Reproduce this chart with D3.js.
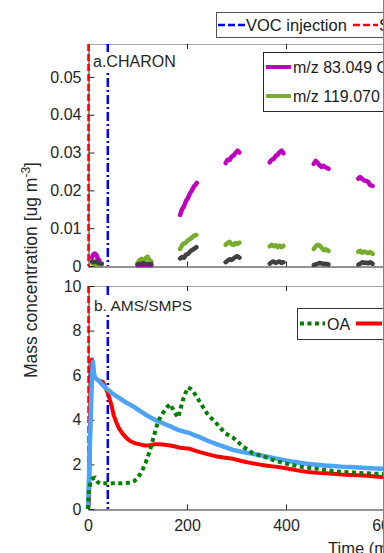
<!DOCTYPE html>
<html>
<head>
<meta charset="utf-8">
<script src="https://cdn.jsdelivr.net/npm/d3@7"></script>
<style>
  body { margin: 0; background: #fff; }
  svg { display: block; font-family: "Liberation Sans", Arial, sans-serif; }
</style>
</head>
<body>
<div id="the_chart"></div>
<script>
// event times (min)
var seedTime = 1;
var vocTime = 40;

// a. CHARON ions, measured in short periods: [time (min), ug m-3]
var mz83 = [
    [[8, 0.0022], [11, 0.0031], [14, 0.0033], [17, 0.0029], [20, 0.0020], [23, 0.0014]],
    [[100, 0.0002], [106, 0.0003], [112, 0.0002], [118, 0.0003], [124, 0.0002], [128, 0.0002]],
    [[186, 0.0135], [190, 0.0150], [194, 0.0158], [198, 0.0172], [202, 0.0180], [206, 0.0192], [210, 0.0200], [214, 0.0210], [218, 0.0216], [220, 0.0220]],
    [[278, 0.0272], [282, 0.0281], [286, 0.0280], [290, 0.0289], [294, 0.0292], [298, 0.0299], [302, 0.0305], [306, 0.0300]],
    [[367, 0.0274], [371, 0.0281], [375, 0.0283], [379, 0.0291], [383, 0.0294], [387, 0.0301], [391, 0.0305], [395, 0.0298]],
    [[456, 0.0270], [460, 0.0278], [464, 0.0273], [468, 0.0266], [472, 0.0262], [476, 0.0265], [480, 0.0261], [486, 0.0257]],
    [[546, 0.0231], [550, 0.0235], [554, 0.0230], [558, 0.0226], [562, 0.0225], [566, 0.0222], [570, 0.0214], [575, 0.0212]]
];
var mz119 = [
    [[8, 0.0008], [12, 0.0005], [16, 0.0006], [20, 0.0004], [24, 0.0005]],
    [[100, 0.0008], [104, 0.0015], [108, 0.0019], [112, 0.0012], [116, 0.0020], [120, 0.0025], [124, 0.0016], [128, 0.0012]],
    [[186, 0.0045], [190, 0.0055], [194, 0.0060], [198, 0.0062], [202, 0.0068], [206, 0.0071], [210, 0.0075], [214, 0.0080], [219, 0.0082]],
    [[278, 0.0056], [282, 0.0061], [286, 0.0064], [290, 0.0058], [294, 0.0056], [298, 0.0061], [302, 0.0058], [306, 0.0062]],
    [[367, 0.0052], [371, 0.0056], [375, 0.0052], [379, 0.0055], [383, 0.0050], [387, 0.0054], [391, 0.0050], [395, 0.0053]],
    [[456, 0.0045], [460, 0.0052], [464, 0.0056], [468, 0.0054], [472, 0.0048], [476, 0.0042], [480, 0.0044], [486, 0.0040]],
    [[546, 0.0038], [550, 0.0040], [554, 0.0035], [558, 0.0038], [562, 0.0036], [566, 0.0034], [570, 0.0037], [575, 0.0032]]
];
var mzOther = [
    [[8, 0.0012], [12, 0.0010], [16, 0.0012], [20, 0.0009], [24, 0.0007], [28, 0.0006]],
    [[100, 0.0004], [104, 0.0006], [108, 0.0005], [112, 0.0007], [116, 0.0005], [120, 0.0006], [124, 0.0004], [128, 0.0005]],
    [[186, 0.0020], [190, 0.0024], [194, 0.0022], [198, 0.0030], [202, 0.0032], [206, 0.0038], [210, 0.0042], [214, 0.0045], [219, 0.0050]],
    [[278, 0.0010], [282, 0.0014], [286, 0.0018], [290, 0.0016], [294, 0.0020], [298, 0.0024], [302, 0.0026], [306, 0.0022]],
    [[367, 0.0006], [371, 0.0010], [375, 0.0012], [379, 0.0008], [383, 0.0010], [387, 0.0012], [391, 0.0008], [395, 0.0010]],
    [[456, 0.0003], [460, 0.0004], [464, 0.0006], [468, 0.0008], [472, 0.0007], [476, 0.0005], [480, 0.0006], [486, 0.0004]],
    [[546, 0.0004], [550, 0.0006], [554, 0.0010], [558, 0.0008], [562, 0.0009], [566, 0.0007], [570, 0.0010], [575, 0.0006]]
];

// b. AMS/SMPS: [time (min), ug m-3]
var oaAms = [[0, 0], [2, 0.86], [6, 1.3], [10, 1.38], [14, 1.4], [20, 1.2], [24, 1.15], [34, 1.15], [44, 1.14], [54, 1.16], [65, 1.15], [75, 1.16], [85, 1.18],
    [93, 1.25], [99, 1.35], [105, 1.55], [111, 1.8], [116, 2.05], [121, 2.35], [126, 2.7], [131, 3.1], [136, 3.5], [141, 3.9], [148, 4.2], [156, 4.45], [161, 4.6],
    [166, 4.7], [171, 4.5], [176, 4.3], [182, 4.1], [187, 4.5], [192, 4.9], [197, 5.2], [202, 5.45], [207, 5.4], [212, 5.3], [219, 5.05], [226, 4.8], [233, 4.55],
    [240, 4.3], [248, 4.1], [257, 3.9], [267, 3.65], [277, 3.4], [285, 3.3], [293, 3.2], [303, 3.0], [313, 2.8], [323, 2.65], [333, 2.5], [347, 2.4], [362, 2.3],
    [378, 2.17], [394, 2.07], [411, 1.98], [428, 1.9], [445, 1.85], [463, 1.8], [479, 1.75], [495, 1.7], [512, 1.67], [529, 1.65], [546, 1.62], [564, 1.6],
    [580, 1.58], [596, 1.57], [640, 1.52], [700, 1.46], [800, 1.38]];
var smpsRed = [[0, 0], [2, 0.3], [4, 3.2], [6, 5.9], [8, 6.7], [10, 6.5], [12, 5.9], [16, 5.85], [22, 5.75], [30, 5.7], [36, 5.4], [40, 5.2], [44, 4.9], [48, 4.6],
    [52, 4.2], [57, 3.9], [63, 3.6], [69, 3.4], [77, 3.2], [85, 3.05], [95, 2.95], [105, 2.9], [115, 2.85], [125, 2.86], [135, 2.9], [145, 2.9], [155, 2.88],
    [166, 2.85], [176, 2.8], [186, 2.75], [196, 2.72], [206, 2.7], [216, 2.62], [226, 2.55], [243, 2.45], [261, 2.35], [277, 2.3], [293, 2.25], [310, 2.15],
    [327, 2.07], [345, 2.0], [362, 1.94], [378, 1.9], [394, 1.85], [411, 1.78], [428, 1.71], [445, 1.66], [463, 1.62], [479, 1.6], [495, 1.58], [512, 1.55],
    [529, 1.53], [546, 1.51], [564, 1.49], [580, 1.46], [596, 1.44], [620, 1.41], [660, 1.36], [720, 1.3], [800, 1.22]];
var smpsBlue = [[0, 0], [2, 1.4], [4, 3.0], [6, 4.5], [8, 5.9], [10, 6.6], [12, 6.1], [14, 5.9], [19, 5.8], [24, 5.7], [32, 5.5], [40, 5.35], [47, 5.22], [55, 5.1],
    [65, 4.95], [75, 4.8], [85, 4.68], [95, 4.55], [105, 4.4], [115, 4.25], [125, 4.12], [135, 4.0], [146, 3.9], [156, 3.8], [169, 3.68], [182, 3.55],
    [194, 3.47], [206, 3.4], [216, 3.3], [226, 3.22], [243, 3.05], [261, 2.9], [277, 2.77], [293, 2.65], [310, 2.57], [327, 2.5], [345, 2.42], [362, 2.35],
    [378, 2.27], [394, 2.2], [411, 2.13], [428, 2.07], [445, 2.02], [463, 1.98], [479, 1.95], [495, 1.93], [512, 1.9], [529, 1.88], [546, 1.86], [564, 1.84],
    [580, 1.82], [596, 1.8], [640, 1.75], [700, 1.69], [800, 1.6]];

var topTicks = [0, 0.01, 0.02, 0.03, 0.04, 0.05];
var botTicks = [0, 2, 4, 6, 8, 10];
var timeTicks = [0, 200, 400, 600, 800];

var w = 384, h = 553;
var left = 88;
var svg = d3.select("#the_chart")
    .append("svg")
    .attr("width", w)
    .attr("height", h);

var xscale = d3.scaleLinear()
    .domain([0, 800])
    .range([left, left + 0.495 * 800]);

gen_panel(44, 266, [0, 0.0587], topTicks, d3.format(".2~f"), false);
gen_panel(286, 509, [0, 10], botTicks, d3.format("d"), true);
gen_top();
gen_bottom();
gen_labels();

// panel title with white box behind it, like the matlab text background
function panel_title(x, y, size, str) {
    var g = svg.append("g");
    var bg = g.append("rect").attr("fill", "#fff");
    var t = g.append("text")
        .attr("x", x).attr("y", y)
        .attr("font-size", size)
        .attr("fill", "#262626")
        .text(str);
    var bb = t.node().getBBox();
    bg.attr("x", bb.x - 2).attr("y", bb.y - 1)
        .attr("width", bb.width + 4).attr("height", bb.height + 2);
}

function gen_panel(y0, y1, dom, ticks, fmt, showX) {
    var yscale = d3.scaleLinear().domain(dom).range([y1, y0]);

    // top edge of the box, light gray with ticks pointing down
    svg.append("line")
        .attr("x1", left).attr("x2", w)
        .attr("y1", y0 + 0.5).attr("y2", y0 + 0.5)
        .attr("stroke", "#a6a6a6");
    svg.selectAll(null)
        .data(timeTicks.slice(1))
        .enter().append("line")
        .attr("x1", function (d) { return Math.round(xscale(d)) + 0.5; })
        .attr("x2", function (d) { return Math.round(xscale(d)) + 0.5; })
        .attr("y1", y0).attr("y2", y0 + 5)
        .attr("stroke", "#262626");

    var yaxis = d3.axisLeft(yscale)
        .tickValues(ticks)
        .tickFormat(fmt)
        .tickSizeInner(-6)
        .tickSizeOuter(0)
        .tickPadding(7);
    var gY = svg.append("g")
        .attr("transform", "translate(" + (left + 0.5) + ",0)")
        .call(yaxis);
    gY.selectAll("text").attr("font-size", 16).attr("fill", "#262626");
    gY.selectAll("line, path").attr("stroke", "#262626");

    var xaxis = d3.axisBottom(xscale)
        .tickValues(timeTicks)
        .tickSizeInner(-5)
        .tickSizeOuter(0)
        .tickPadding(10)
        .tickFormat(showX ? d3.format("d") : "");
    var gX = svg.append("g")
        .attr("transform", "translate(0," + (y1 + 0.5) + ")")
        .call(xaxis);
    gX.selectAll("text").attr("font-size", 16).attr("fill", "#262626");
    gX.selectAll("line, path").attr("stroke", "#262626");
    gX.selectAll(".tick line").filter(function (d) { return d === 0; }).remove();

    // seed and VOC injection markers
    svg.append("line")
        .attr("x1", xscale(seedTime)).attr("x2", xscale(seedTime))
        .attr("y1", y0).attr("y2", y1)
        .attr("stroke", "#ff0000").attr("stroke-width", 2.5)
        .attr("stroke-dasharray", "7,3");
    svg.append("line")
        .attr("x1", xscale(vocTime)).attr("x2", xscale(vocTime))
        .attr("y1", y0).attr("y2", y1)
        .attr("stroke", "#0000ff").attr("stroke-width", 2.5)
        .attr("stroke-dasharray", "9,3,2,3");
}

function gen_top() {
    var yscale = d3.scaleLinear().domain([0, 0.0587]).range([266, 44]);
    var line = d3.line()
        .x(function (d) { return xscale(d[0]); })
        .y(function (d) { return yscale(d[1]); });

    var series = [
        { data: mz83, color: "#bf00bf" },
        { data: mz119, color: "#77ac30" },
        { data: mzOther, color: "#404040" }
    ];
    series.forEach(function (s) {
        svg.append("g").selectAll("path")
            .data(s.data)
            .enter().append("path")
            .attr("d", line)
            .attr("fill", "none")
            .attr("stroke", s.color)
            .attr("stroke-width", 4.5)
            .attr("stroke-linejoin", "round")
            .attr("stroke-linecap", "round");
    });

    panel_title(93, 67, 16, "a.CHARON");

    // legend
    svg.append("rect")
        .attr("x", 263.5).attr("y", 52.5)
        .attr("width", 200).attr("height", 59)
        .attr("fill", "#fff").attr("stroke", "#262626");
    var leg = [
        { label: "m/z 83.049 C\u2085H\u2087O\u207A", color: "#bf00bf", y: 67 },
        { label: "m/z 119.070 C\u2089H\u2081\u2081\u207A", color: "#77ac30", y: 96 }
    ];
    leg.forEach(function (d) {
        svg.append("line")
            .attr("x1", 266).attr("x2", 291)
            .attr("y1", d.y).attr("y2", d.y)
            .attr("stroke", d.color).attr("stroke-width", 4);
        svg.append("text")
            .attr("x", 293).attr("y", d.y + 5.5)
            .attr("font-size", 16).attr("fill", "#1a1a1a")
            .text(d.label);
    });
}

function gen_bottom() {
    var yscale = d3.scaleLinear().domain([0, 10]).range([509, 286]);
    var line = d3.line()
        .x(function (d) { return xscale(d[0]); })
        .y(function (d) { return yscale(d[1]); });

    svg.append("path")
        .datum(smpsRed)
        .attr("d", line)
        .attr("fill", "none")
        .attr("stroke", "#ff0000")
        .attr("stroke-width", 4)
        .attr("stroke-linejoin", "round");
    svg.append("path")
        .datum(smpsBlue)
        .attr("d", line)
        .attr("fill", "none")
        .attr("stroke", "#4da3f5")
        .attr("stroke-width", 4.5)
        .attr("stroke-linejoin", "round");
    svg.append("path")
        .datum(oaAms)
        .attr("d", line)
        .attr("fill", "none")
        .attr("stroke", "#008000")
        .attr("stroke-width", 4)
        .attr("stroke-dasharray", "4,3.5");

    panel_title(94, 311, 15.5, "b. AMS/SMPS");

    // legend
    svg.append("rect")
        .attr("x", 297.5).attr("y", 308.5)
        .attr("width", 200).attr("height", 31)
        .attr("fill", "#fff").attr("stroke", "#333");
    svg.append("line")
        .attr("x1", 300).attr("x2", 325)
        .attr("y1", 323.5).attr("y2", 323.5)
        .attr("stroke", "#008000").attr("stroke-width", 4)
        .attr("stroke-dasharray", "4,3.5");
    svg.append("text")
        .attr("x", 327).attr("y", 329.5)
        .attr("font-size", 16).attr("fill", "#1a1a1a")
        .text("OA");
    svg.append("line")
        .attr("x1", 356).attr("x2", 382)
        .attr("y1", 323.5).attr("y2", 323.5)
        .attr("stroke", "#ff0000").attr("stroke-width", 4);
}

function gen_labels() {
    // event legend on top
    svg.append("rect")
        .attr("x", 216.5).attr("y", 12.5)
        .attr("width", 250).attr("height", 25)
        .attr("fill", "#fff").attr("stroke", "#555");
    svg.append("line")
        .attr("x1", 218).attr("x2", 245)
        .attr("y1", 25).attr("y2", 25)
        .attr("stroke", "#0000ff").attr("stroke-width", 2.5)
        .attr("stroke-dasharray", "7,3");
    svg.append("text")
        .attr("x", 246).attr("y", 31)
        .attr("font-size", 16.5).attr("fill", "#1a1a1a")
        .text("VOC injection");
    svg.append("line")
        .attr("x1", 353).attr("x2", 378)
        .attr("y1", 25).attr("y2", 25)
        .attr("stroke", "#ff0000").attr("stroke-width", 2.5)
        .attr("stroke-dasharray", "7,3");
    svg.append("text")
        .attr("x", 379).attr("y", 31)
        .attr("font-size", 16.5).attr("fill", "#1a1a1a")
        .text("Seed injection");

    var ylab = svg.append("text")
        .attr("transform", "translate(37,270) rotate(-90)")
        .attr("text-anchor", "middle")
        .attr("font-size", 17.5)
        .attr("fill", "#262626");
    ylab.append("tspan").text("Mass concentration [ug m");
    ylab.append("tspan").attr("font-size", 12).attr("dy", -7).text("-3");
    ylab.append("tspan").attr("dy", 7).text("]");

    svg.append("text")
        .attr("x", 328).attr("y", 554)
        .attr("font-size", 16.5).attr("fill", "#262626")
        .text("Time (min)");

    // crop edge
    svg.append("line")
        .attr("x1", 383.5).attr("x2", 383.5)
        .attr("y1", 0).attr("y2", h)
        .attr("stroke", "#c86464");
}
</script>
</body>
</html>
